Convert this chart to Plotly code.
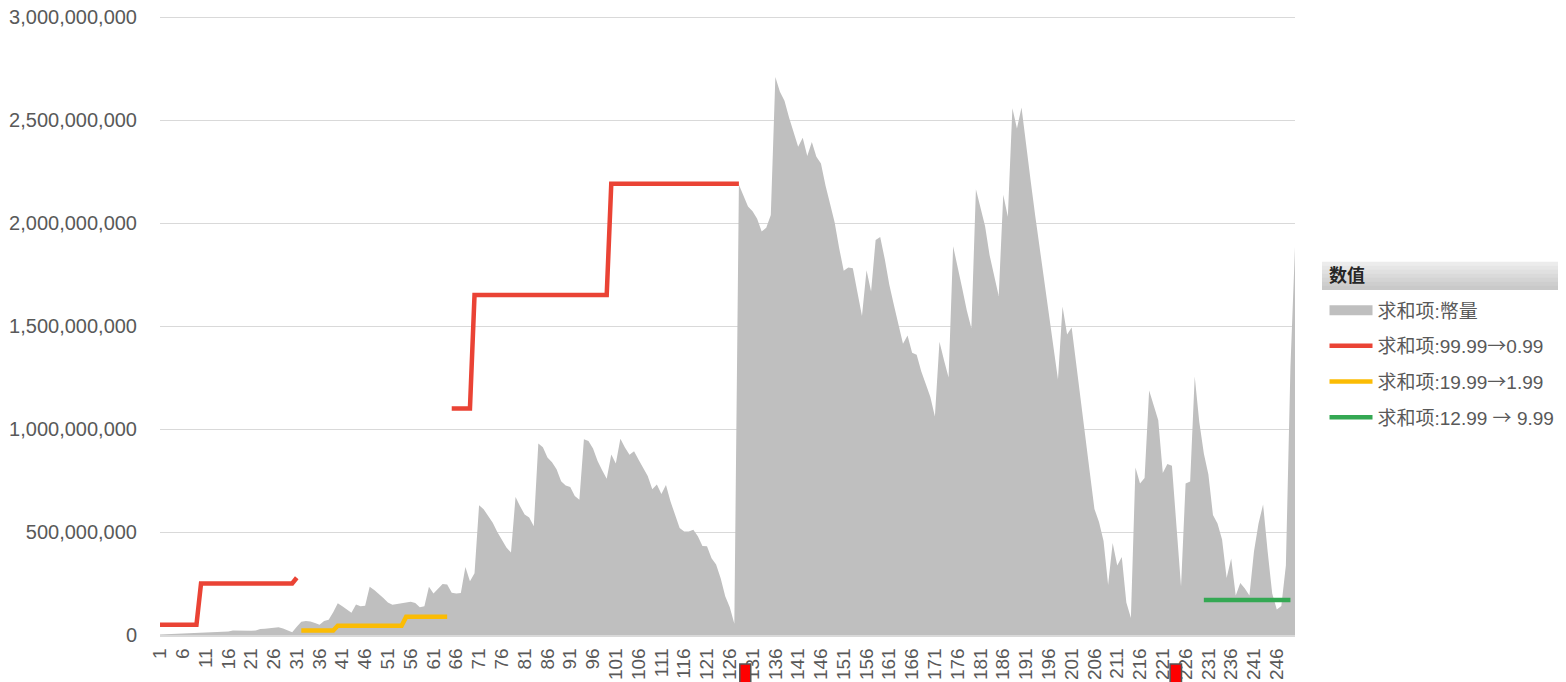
import plotly.graph_objects as go

# categories 1..250 on the x axis
categories = list(range(1, 251))
tick_vals = list(range(1, 251, 5))
tick_text = [str(v) for v in tick_vals]
y_ticks = [0, 5e8, 1e9, 1.5e9, 2e9, 2.5e9, 3e9]

# 求和项:幣量 (millions), one value per category
amount_m = [
    3, 4, 5, 6, 7, 8, 9, 10, 11, 12,
    13, 14, 14, 15, 16, 17, 22, 21, 21, 20,
    21, 22, 29, 30, 32, 36, 38, 32, 22, 13,
    40, 64, 68, 66, 58, 50, 68, 74, 110, 154,
    140, 122, 108, 148, 140, 142, 234, 218, 200, 180,
    158, 147, 150, 154, 156, 162, 155, 135, 140, 234,
    202, 225, 248, 245, 205, 202, 204, 330, 261, 300,
    630, 610, 580, 545, 500, 460, 425, 400, 670, 625,
    585, 570, 528, 930, 912, 862, 838, 805, 746, 726,
    719, 675, 657, 950, 942, 905, 845, 800, 758, 876,
    832, 953, 910, 875, 892, 851, 813, 772, 708, 730,
    685, 728, 648, 582, 520, 503, 503, 511, 479, 432,
    431, 372, 342, 275, 188, 135, 55, 2186, 2136, 2080,
    2057, 2021, 1959, 1977, 2039, 2709, 2637, 2593, 2512, 2441,
    2370, 2414, 2325, 2393, 2321, 2289, 2182, 2093, 2004, 1878,
    1768, 1784, 1780, 1664, 1548, 1771, 1668, 1918, 1932, 1825,
    1700, 1602, 1512, 1414, 1454, 1370, 1361, 1280, 1218, 1155,
    1061, 1423, 1334, 1250, 1887, 1789, 1682, 1575, 1489, 2164,
    2075, 1986, 1843, 1736, 1646, 2137, 2030, 2557, 2459, 2561,
    2374, 2206, 2037, 1879, 1710, 1543, 1386, 1240, 1595, 1459,
    1493, 1310, 1140, 956, 786, 612, 549, 456, 243, 446,
    337, 379, 158, 82, 813, 736, 762, 1187, 1119, 1043,
    787, 830, 821, 524, 235, 736, 745, 1255, 1034, 881,
    779, 583, 541, 464, 277, 371, 192, 252, 226, 192,
    405, 541, 634, 405, 201, 124, 141, 337, 1300, 1884,
]

# price series (millions), None = gap
red_x = [1, 9, 10, 30, 31, None, 65, 69, 70, 99, 100, 128]
red_m = [50, 50, 250, 250, 278, None, 1100, 1100, 1650, 1650, 2190, 2190]
orange_x = [32, 39, 40, 54, 55, 64]
orange_m = [22, 22, 45, 45, 88, 88]
green_x = [230, 249]
green_m = [170, 170]

flag_x = [(128.2, 130.6), (222.6, 225.1)]

def to_units(vals):
    return [None if v is None else v * 1e6 for v in vals]

FONT = "Liberation Sans, Arial, Noto Sans CJK SC, sans-serif"
GREY = "#bfbfbf"
ARROW = "<span style='font-family:Noto Sans CJK SC'>→</span>"

fig = go.Figure()
fig.add_trace(go.Scatter(x=categories, y=to_units(amount_m), mode="lines", fill="tozeroy",
                         line=dict(width=0, color=GREY), fillcolor=GREY,
                         showlegend=False, hoverinfo="skip"))
# legend proxy for the area
fig.add_trace(go.Scatter(x=[None], y=[None], mode="lines", name="求和项:幣量",
                         line=dict(width=10, color=GREY), legendgroup="a"))
fig.add_trace(go.Scatter(x=red_x, y=to_units(red_m), mode="lines", name="求和项:99.99" + ARROW + "0.99",
                         line=dict(width=4.5, color="#ea4335"), connectgaps=False, legendgroup="b"))
fig.add_trace(go.Scatter(x=orange_x, y=to_units(orange_m), mode="lines", name="求和项:19.99" + ARROW + "1.99",
                         line=dict(width=4.5, color="#fbbc04"), legendgroup="c"))
fig.add_trace(go.Scatter(x=green_x, y=to_units(green_m), mode="lines", name="求和项:12.99 " + ARROW + " 9.99",
                         line=dict(width=4.5, color="#34a853"), legendgroup="d"))

# plot is 622px tall so that 3e9 sits 4px below the top of the plot area
y_max = 3e9 * 622 / 618

# legend title bar (gradient approximated with strips), pixel rows 262..290
strip_cols = ["#ececec", "#e6e6e6", "#e0e0e0", "#dadada", "#d4d4d4", "#cecece", "#c9c9c9"]
y_top, y_bot = (635 - 262) / 622, (635 - 290) / 622
h = (y_top - y_bot) / len(strip_cols)
for i, c in enumerate(strip_cols):
    fig.add_shape(type="rect", xref="paper", yref="paper", x0=1.0238, x1=1.24,
                  y0=y_top - (i + 1) * h, y1=y_top - i * h + 0.0005,
                  fillcolor=c, line=dict(width=0), layer="below")
fig.add_annotation(text="<b>数值</b>", xref="paper", yref="paper", x=1.028, y=(y_top + y_bot) / 2,
                   xanchor="left", yanchor="middle", showarrow=False,
                   font=dict(size=18, color="#262626", family=FONT))

for x0, x1 in flag_x:
    fig.add_shape(type="rect", xref="x", yref="paper", x0=x0, x1=x1, y0=-29 / 622, y1=-0.2,
                  fillcolor="#ff0000", line=dict(width=1.5, color="#555555"))

# page body has an 8px margin, so the figure is sized to end at the window edge
fig.update_layout(
    width=1558, height=674, template="none",
    paper_bgcolor="white", plot_bgcolor="white",
    margin=dict(l=152, r=271, t=5, b=47),
    font=dict(family=FONT, color="#595959"),
    legend=dict(x=1.026, y=(635 - 291.3) / 622, xanchor="left", yanchor="top",
                font=dict(size=19, color="#595959", family=FONT),
                tracegroupgap=8, itemwidth=43, bgcolor="rgba(0,0,0,0)"),
)
fig.update_xaxes(range=[1, 250], tickvals=tick_vals, ticktext=tick_text, tickangle=-90,
                 showgrid=False, zeroline=False, showline=True, linecolor="#d9d9d9", linewidth=1.5,
                 ticks="", ticklabelstandoff=4, automargin=False,
                 tickfont=dict(size=19, color="#595959", family=FONT))
fig.update_yaxes(range=[0, y_max], tickvals=y_ticks, tickformat=",d",
                 showgrid=True, gridcolor="#d9d9d9", ticklabeloverflow="allow",
                 gridwidth=1.3, zeroline=False, showline=False, ticks="", ticklabelstandoff=22,
                 automargin=False, tickfont=dict(size=20, color="#595959", family=FONT))

fig.write_html("out.html")
